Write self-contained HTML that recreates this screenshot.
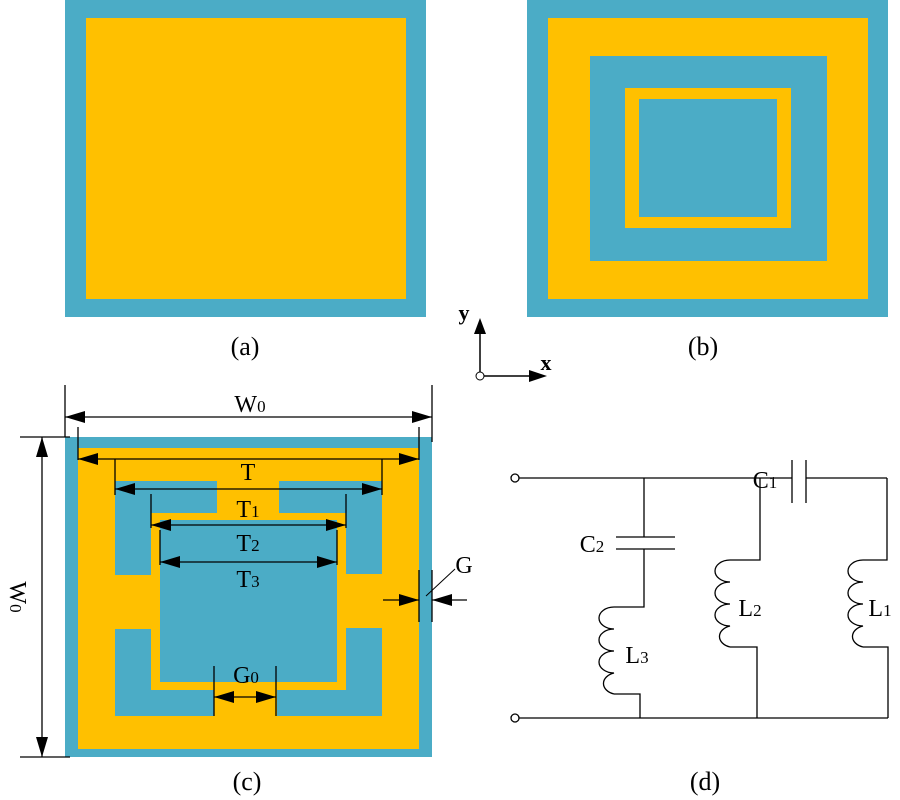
<!DOCTYPE html>
<html><head><meta charset="utf-8"><style>body{margin:0;background:#fff}svg{display:block}text{font-family:"Liberation Serif",serif;fill:#000}</style></head><body>
<svg width="900" height="800" viewBox="0 0 900 800" xmlns="http://www.w3.org/2000/svg">
<defs>
<marker id="ah" viewBox="0 0 20 12" refX="20" refY="6" markerWidth="20" markerHeight="12" markerUnits="userSpaceOnUse" orient="auto-start-reverse"><path d="M0,0 L20,6 L0,12 Z" fill="#000"/></marker>
</defs>
<rect x="65" y="0" width="361" height="317" fill="#4BACC6"/>
<rect x="86" y="18" width="320" height="281" fill="#FFC000"/>
<rect x="527" y="0" width="361" height="317" fill="#4BACC6"/>
<rect x="548" y="18" width="320" height="281" fill="#FFC000"/>
<rect x="590" y="56" width="237" height="205" fill="#4BACC6"/>
<rect x="625" y="88" width="166" height="140" fill="#FFC000"/>
<rect x="639" y="99" width="138" height="118" fill="#4BACC6"/>
<text x="245" y="355" font-size="26" text-anchor="middle">(a)</text>
<text x="703" y="355" font-size="26" text-anchor="middle">(b)</text>
<line x1="480" y1="372" x2="480" y2="333" stroke="#000" stroke-width="1.5"/>
<path d="M480,318 L474,334 L486,334 Z" fill="#000"/>
<line x1="484" y1="376" x2="530" y2="376" stroke="#000" stroke-width="1.5"/>
<path d="M547,376 L529,370 L529,382 Z" fill="#000"/>
<circle cx="480" cy="376" r="4" fill="#fff" stroke="#000"/>
<text x="464" y="320" font-size="22" font-weight="bold" text-anchor="middle">y</text>
<text x="546" y="370" font-size="22" font-weight="bold" text-anchor="middle">x</text>
<rect x="65" y="437" width="367" height="320" fill="#4BACC6"/>
<rect x="78" y="448" width="341" height="301" fill="#FFC000"/>
<rect x="115" y="481" width="102" height="32" fill="#4BACC6"/>
<rect x="115" y="481" width="36" height="94" fill="#4BACC6"/>
<rect x="279" y="481" width="103" height="32" fill="#4BACC6"/>
<rect x="346" y="481" width="36" height="93" fill="#4BACC6"/>
<rect x="115" y="629" width="36" height="87" fill="#4BACC6"/>
<rect x="115" y="690" width="99" height="26" fill="#4BACC6"/>
<rect x="277" y="690" width="105" height="26" fill="#4BACC6"/>
<rect x="346" y="628" width="36" height="88" fill="#4BACC6"/>
<rect x="160" y="520" width="177" height="162" fill="#4BACC6"/>
<g stroke="#000" stroke-width="1.3" fill="none">
<line x1="65" y1="385" x2="65" y2="437"/><line x1="432" y1="385" x2="432" y2="442"/>
<line x1="65" y1="417" x2="432" y2="417" marker-start="url(#ah)" marker-end="url(#ah)"/>
<line x1="78" y1="427" x2="78" y2="460"/><line x1="419" y1="427" x2="419" y2="460"/>
<line x1="78" y1="459" x2="419" y2="459" marker-start="url(#ah)" marker-end="url(#ah)"/>
<line x1="115" y1="459" x2="115" y2="495"/><line x1="382" y1="459" x2="382" y2="495"/>
<line x1="115" y1="489" x2="382" y2="489" marker-start="url(#ah)" marker-end="url(#ah)"/>
<line x1="151" y1="494" x2="151" y2="528"/><line x1="346" y1="494" x2="346" y2="528"/>
<line x1="151" y1="525" x2="346" y2="525" marker-start="url(#ah)" marker-end="url(#ah)"/>
<line x1="160" y1="530" x2="160" y2="565"/><line x1="337" y1="530" x2="337" y2="565"/>
<line x1="160" y1="562" x2="337" y2="562" marker-start="url(#ah)" marker-end="url(#ah)"/>
<line x1="214" y1="666" x2="214" y2="716"/><line x1="276" y1="666" x2="276" y2="716"/>
<line x1="214" y1="697" x2="276" y2="697" marker-start="url(#ah)" marker-end="url(#ah)"/>
<line x1="419" y1="570" x2="419" y2="622"/><line x1="432" y1="570" x2="432" y2="622"/>
<line x1="383" y1="600" x2="419" y2="600" marker-end="url(#ah)"/>
<line x1="467" y1="600" x2="432" y2="600" marker-end="url(#ah)"/>
<line x1="426" y1="596" x2="455" y2="569" stroke-width="1"/>
<line x1="20" y1="437" x2="70" y2="437"/><line x1="20" y1="757" x2="70" y2="757"/>
<line x1="42" y1="437" x2="42" y2="757" marker-start="url(#ah)" marker-end="url(#ah)"/>
</g>
<text x="250" y="412" font-size="24" text-anchor="middle">W<tspan font-size="17">0</tspan></text>
<text x="248" y="480" font-size="24" text-anchor="middle">T</text>
<text x="248" y="517" font-size="24" text-anchor="middle">T<tspan font-size="17">1</tspan></text>
<text x="248" y="551" font-size="24" text-anchor="middle">T<tspan font-size="17">2</tspan></text>
<text x="248" y="587" font-size="24" text-anchor="middle">T<tspan font-size="17">3</tspan></text>
<text x="246" y="683" font-size="24" text-anchor="middle">G<tspan font-size="17">0</tspan></text>
<text x="464" y="573" font-size="24" text-anchor="middle">G</text>
<text x="0" y="0" font-size="24" text-anchor="middle" transform="translate(10,597) rotate(90)">W<tspan font-size="17">0</tspan></text>
<text x="247" y="790" font-size="26" text-anchor="middle">(c)</text>
<g stroke="#000" stroke-width="1.3" fill="none">
<line x1="519" y1="478" x2="792" y2="478"/><line x1="806" y1="478" x2="887" y2="478"/>
<line x1="792" y1="460" x2="792" y2="503"/><line x1="806" y1="460" x2="806" y2="503"/>
<line x1="519" y1="718" x2="888" y2="718"/>
<circle cx="515" cy="478" r="4"/><circle cx="515" cy="718" r="4"/>
<line x1="644" y1="478" x2="644" y2="537"/>
<line x1="616" y1="537" x2="675" y2="537"/><line x1="616" y1="549" x2="675" y2="549"/>
<polyline points="644,549 644,607 614,607"/>
<path d="M614,607 a15,11 0 0 0 0,22 a15,11 0 0 0 0,22 a15,11 0 0 0 0,22 a15,11 0 0 0 0,21"/>
<polyline points="614,694 640,694 640,718"/>
<polyline points="760,478 760,560 730,560"/>
<path d="M730,560 a15,11 0 0 0 0,22 a15,11 0 0 0 0,22 a15,11 0 0 0 0,22 a15,11 0 0 0 0,21"/>
<polyline points="730,647 757,647 757,718"/>
<polyline points="887,478 887,560 863,560"/>
<path d="M863,560 a15,11 0 0 0 0,22 a15,11 0 0 0 0,22 a15,11 0 0 0 0,22 a15,11 0 0 0 0,21"/>
<polyline points="863,647 888,647 888,718"/>
</g>
<text x="765" y="488" font-size="24" text-anchor="middle">C<tspan font-size="17">1</tspan></text>
<text x="592" y="552" font-size="24" text-anchor="middle">C<tspan font-size="17">2</tspan></text>
<text x="637" y="663" font-size="24" text-anchor="middle">L<tspan font-size="17">3</tspan></text>
<text x="750" y="616" font-size="24" text-anchor="middle">L<tspan font-size="17">2</tspan></text>
<text x="880" y="616" font-size="24" text-anchor="middle">L<tspan font-size="17">1</tspan></text>
<text x="705" y="790" font-size="26" text-anchor="middle">(d)</text>
</svg>
</body></html>
